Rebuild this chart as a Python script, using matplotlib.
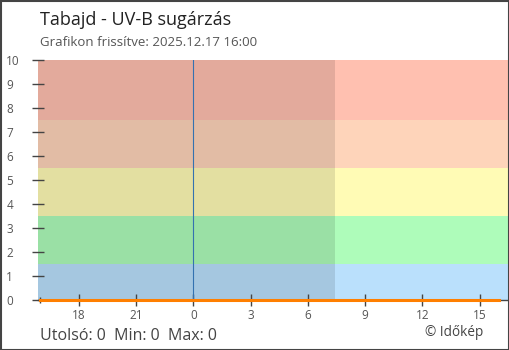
import numpy as np
import matplotlib
matplotlib.use("Agg")
import matplotlib.pyplot as plt
from matplotlib.patches import Rectangle

plt.rcParams['font.family'] = ['Open Sans', 'DejaVu Sans']

# hours relative to midnight (16:00 yesterday .. 16:00 today)
hours = list(range(-8, 17))
uvb = [0] * len(hours)

# UV-B bands: (low, high, colour)
band_lows = [0, 1.5, 3.5, 5.5, 7.5]
band_highs = [1.5, 3.5, 5.5, 7.5, 10]
band_colors = ['#bae0fc', '#aefcba', '#fffbb5', '#fed4ba', '#ffc0b0']

xticks = [-6, -3, 0, 3, 6, 9, 12, 15]
xlabels = [str(h % 24) for h in xticks]
yticks = list(range(0, 11))

shade_end = 7.42   # end of darker region
now_line = 0

fig = plt.figure(figsize=(5.1, 3.5), dpi=100)
ax = fig.add_axes([38 / 510, 1 - 300 / 350, 471 / 510, 240 / 350])

x0, x1 = -8.13, 16.53
for lo, hi, c in zip(band_lows, band_highs, band_colors):
    ax.axhspan(lo, hi, color=c, lw=0, zorder=0)
ax.axvspan(x0, shade_end, color='black', alpha=0.11, lw=0, zorder=1)
ax.axvline(now_line, color='#3472b0', lw=0.8, zorder=2)

ax.plot(hours, uvb, color='#ff7f00', lw=2.2, zorder=4, clip_on=False)

ax.set_xlim(x0, x1)
ax.set_ylim(0, 10)

for s in ['left', 'top', 'right']:
    ax.spines[s].set_visible(False)
ax.spines['bottom'].set_color('#444444')
ax.spines['bottom'].set_linewidth(1)

ax.set_xticks(xticks)
ax.set_xticklabels(xlabels)
ax.set_xticks([-8], minor=True)
ax.set_yticks(yticks)
ax.tick_params(axis='x', direction='inout', length=9, width=1, color='#444444',
               labelsize=8.5, labelcolor='#555555', pad=2)
ax.tick_params(axis='x', which='minor', direction='inout', length=5, width=1, color='#444444')
ax.tick_params(axis='y', direction='inout', length=9, width=1, color='#444444',
               labelsize=8.5, labelcolor='#555555', pad=18.3)
for lab in ax.get_yticklabels():
    lab.set_horizontalalignment('left')

fig.text(40 / 510, 1 - 25 / 350, 'Tabajd - UV-B sugárzás', fontsize=13,
         color='#222222', va='baseline')
fig.text(40 / 510, 1 - 45.5 / 350, 'Grafikon frissítve: 2025.12.17 16:00', fontsize=9.5,
         color='#555555', va='baseline')
fig.text(40 / 510, 1 - 340 / 350, 'Utolsó: 0  Min: 0  Max: 0', fontsize=11.5,
         color='#444444', va='baseline')
fig.text(425 / 510, 1 - 336 / 350, '© Időkép', fontsize=9.8,
         color='#444444', va='baseline')

fig.patches.append(Rectangle((0.5 / 510, 0.5 / 350), 508.5 / 510, 348.5 / 350,
                             transform=fig.transFigure, fill=False,
                             edgecolor='#444444', lw=1.5))

fig.savefig('out.png', dpi=100)
